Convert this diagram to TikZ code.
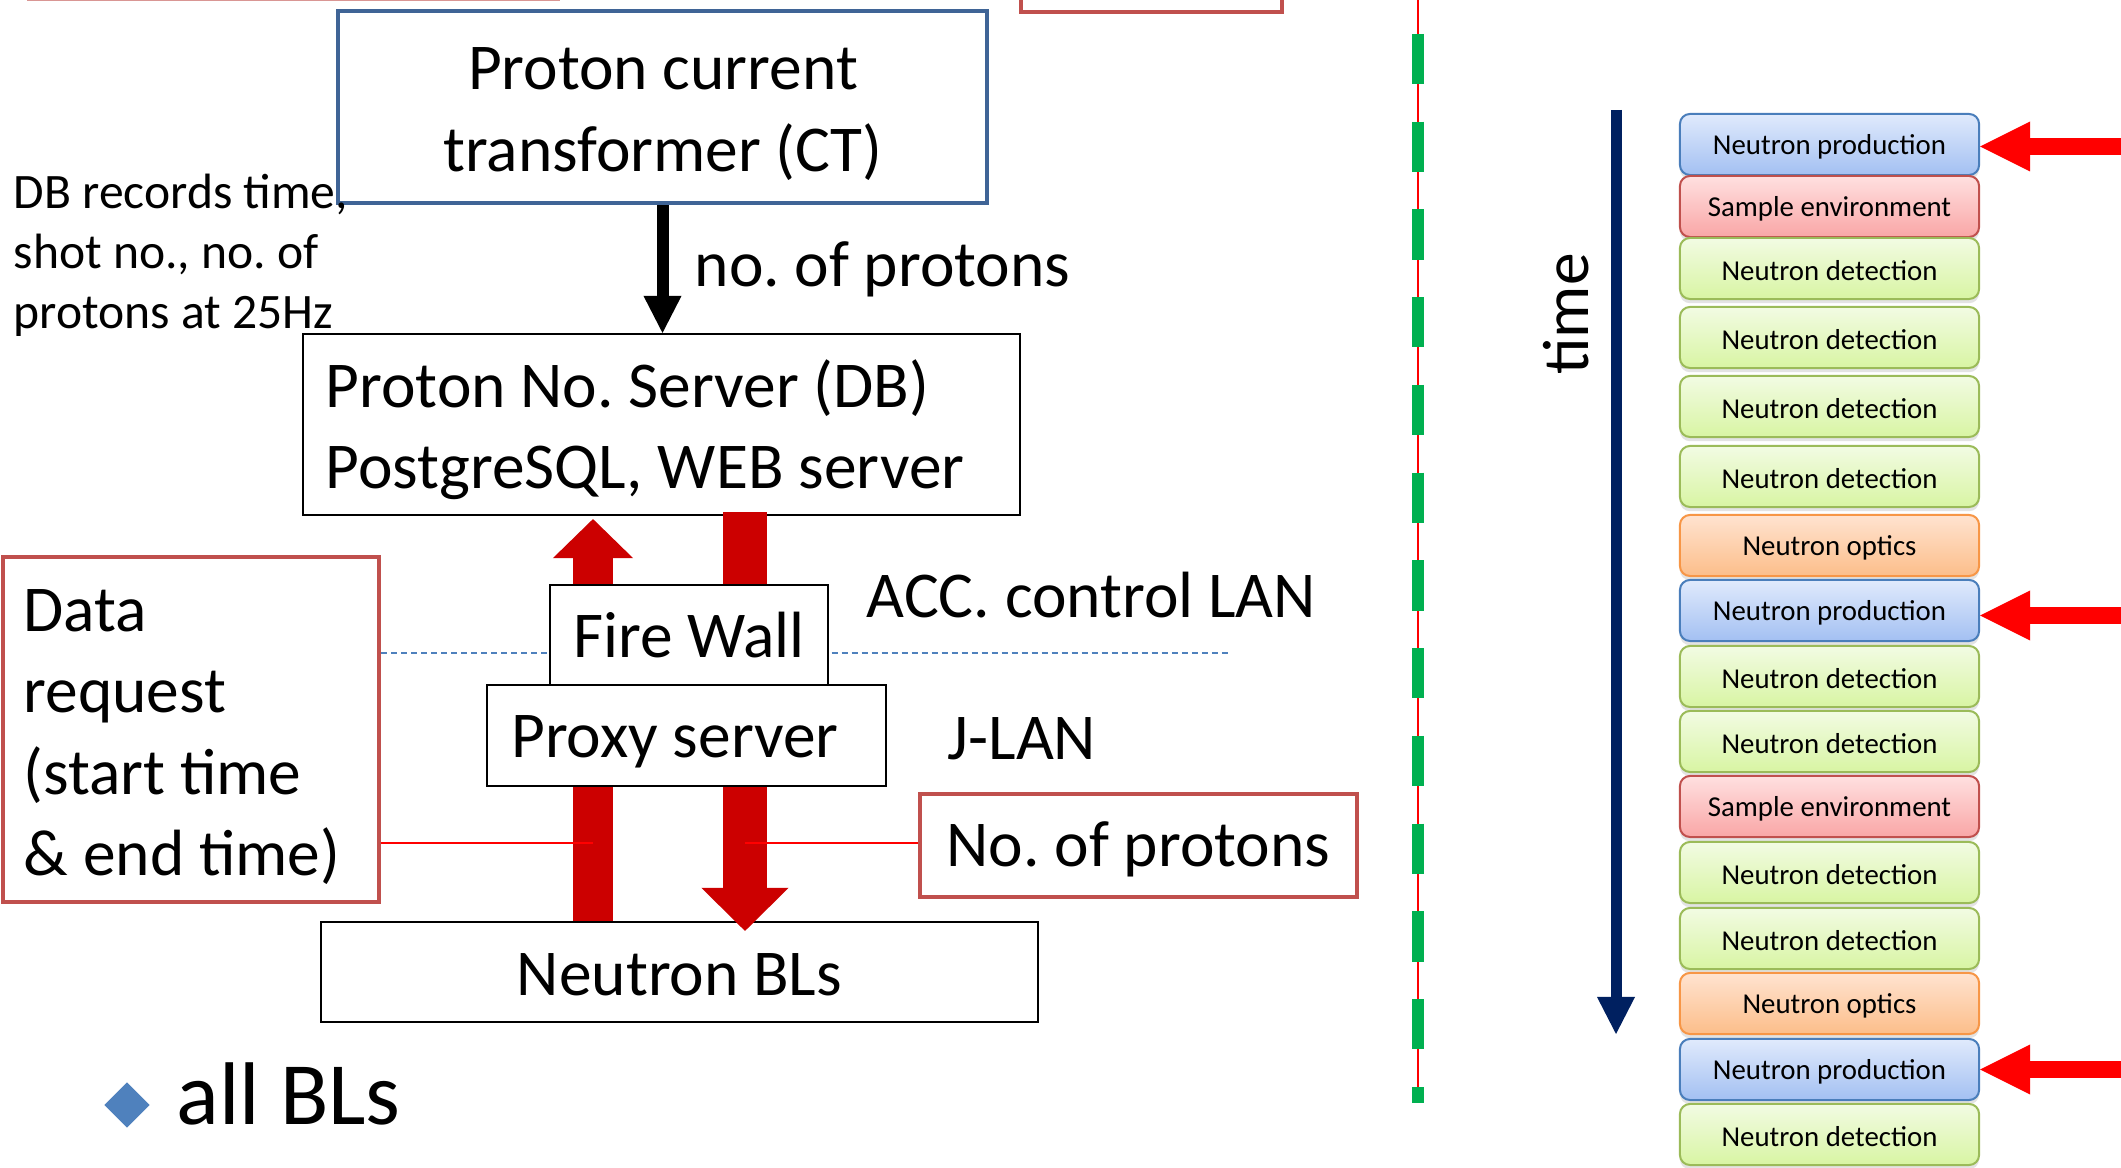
\documentclass[tikz,border=0pt]{standalone}
\usepackage{fontspec}
\setmainfont{Carlito}
\usetikzlibrary{arrows.meta,shapes.geometric,shadows,calc}
\frenchspacing
\definecolor{ctblue}{RGB}{63,100,150}
\definecolor{boxred}{RGB}{192,80,77}
\definecolor{arrred}{RGB}{204,0,0}
\definecolor{dashblue}{RGB}{79,129,189}
\definecolor{navyc}{RGB}{0,32,96}
\definecolor{lgreen}{RGB}{0,176,80}
\definecolor{prodB}{RGB}{74,126,187}
\definecolor{prodT}{RGB}{224,234,252}
\definecolor{prodL}{RGB}{163,192,242}
\definecolor{sampB}{RGB}{192,80,77}
\definecolor{sampT}{RGB}{255,224,224}
\definecolor{sampL}{RGB}{249,166,166}
\definecolor{detB}{RGB}{155,187,89}
\definecolor{detT}{RGB}{242,251,227}
\definecolor{detL}{RGB}{216,245,163}
\definecolor{optB}{RGB}{247,150,70}
\definecolor{optT}{RGB}{255,227,208}
\definecolor{optL}{RGB}{252,190,138}
\newcommand{\lowr}[2]{\raisebox{-#1}[\height][\depth]{#2}}
\tikzset{
  big/.style={font=\fontsize{18.6}{23.1}\selectfont},
  smalltxt/.style={font=\fontsize{14.1}{17.1}\selectfont},
  hugetxt/.style={font=\fontsize{25.3}{30}\selectfont},
  blkbox/.style={draw=black, line width=0.57pt, rectangle, big},
  ctbox/.style={draw=ctblue, line width=1.28pt, rectangle},
  redbox/.style={draw=boxred, line width=1.28pt, rectangle, big},
  lbl/.style={big, anchor=west, inner sep=0pt},
  txt/.style={big, inner sep=0pt},
  blkarrow/.style={draw=black, line width=0.12cm, -{Triangle[width=0.38cm,length=0.37cm,line width=0pt]}},
  uparrow/.style={draw=arrred, line width=0.40cm, -{Triangle[width=0.80cm,length=0.39cm,line width=0pt]}},
  dnarrow/.style={draw=arrred, line width=0.44cm, -{Triangle[width=0.87cm,length=0.43cm,line width=0pt]}},
  navyarrow/.style={draw=navyc, line width=0.11cm, -{Triangle[width=0.38cm,length=0.37cm,line width=0pt]}},
  rarrow/.style={draw=red, line width=0.175cm, -{Triangle[width=0.50cm,length=0.50cm,line width=0pt]}},
  thinred/.style={draw=red, line width=0.6pt},
  dashline/.style={draw=dashblue, line width=0.6pt, dash pattern=on 0.06cm off 0.04cm},
  rbase/.style={rectangle, rounded corners=0.1cm, line width=0.57pt, minimum width=2.99cm, minimum height=0.61cm, inner sep=0pt, font=\fontsize{8.2}{10}\selectfont, drop shadow={opacity=0.22, shadow xshift=0pt, shadow yshift=-1.2pt}},
  rprod/.style={rbase, draw=prodB, top color=prodT, bottom color=prodL},
  rsamp/.style={rbase, draw=sampB, top color=sampT, bottom color=sampL},
  rdet/.style={rbase, draw=detB, top color=detT, bottom color=detL},
  ropt/.style={rbase, draw=optB, top color=optT, bottom color=optL},
}
\begin{document}
\begin{tikzpicture}[x=0.01cm,y=-0.01cm]
\useasboundingbox (0,0) rectangle (2121,1168);
\fill[white] (0,0) rectangle (2121,1168);
% partial boxes cut at the top
\draw[boxred!60, line width=1.28pt] (29,-60) rectangle (558,-1);
\draw[boxred, line width=1.28pt] (1021,-60) rectangle (1282,12);
% left diagram
\node[ctbox, minimum width=6.49cm, minimum height=1.92cm] (ct) at (662.5,107) {};
\node[txt, align=center] (ctT) at (663,114) {Proton current\\transformer (CT)};
\node[blkbox, minimum width=7.17cm, minimum height=1.81cm] (db) at (661.5,424.5) {};
\node[txt, align=left, anchor=west] (dbT) at (325,430) {Proton No. Server (DB)\\PostgreSQL, WEB server};
\node[blkbox, minimum width=7.17cm, minimum height=1.0cm] (bls) at (679.5,972) {\lowr{0.03cm}{Neutron BLs}};
\node[redbox, minimum width=3.76cm, minimum height=3.45cm] (dreq) at (191,729.5) {};
\node[txt, align=left, anchor=west] (dreqT) at (23,737) {Data\\request\\(start time\\\& end time)};
\node[redbox, minimum width=4.37cm, minimum height=1.03cm] (nop) at (1138.5,845.5) {\lowr{0.04cm}{No. of protons}};
\draw[blkarrow] (ct.south) -- (ct.south |- db.north);
\node[lbl] (lblp) at (694,269) {no. of protons};
\node[smalltxt, anchor=west, align=left, inner sep=0pt] (dbrec) at (13,255) {DB records time,\\shot no., no. of\\protons at 25Hz};
\coordinate (upx) at (593,0);
\coordinate (dnx) at (745,0);
\coordinate (ly) at (0,843);
\coordinate (dy) at (0,653);
\coordinate (dEnd) at (1228,653);
\draw[dashline] (dreq.east |- dy) -- (dEnd);
\draw[uparrow] (bls.north -| upx) -- ($(db.south -| upx)+(0,3)$);
\draw[dnarrow] ($(db.south -| dnx)+(0,-4)$) -- ($(bls.north -| dnx)+(0,10)$);
\draw[thinred] (dreq.east |- ly) -- (upx |- ly);
\draw[thinred] (nop.west |- ly) -- (dnx |- ly);
\node[blkbox, fill=white, minimum width=2.78cm, minimum height=1.0cm] (fw) at (689,635) {Fire Wall};
\node[blkbox, fill=white, minimum width=3.99cm, minimum height=1.01cm] (proxy) at (686.5,735.5) {};
\node[txt] (proxyT) at (675,742) {Proxy server};
\node[lbl] (acc) at (866,595) {ACC. control LAN};
\node[lbl] (jlan) at (947,739) {J-LAN};
\node[diamond, fill=dashblue, minimum width=0.46cm, minimum height=0.46cm, inner sep=0pt] (dia) at (127,1105) {};
\node[hugetxt, anchor=base west, inner sep=0pt] (allbl) at (176,1125) {all BLs};
% separator line
\coordinate (vTop) at (1418,0);
\coordinate (vBot) at (1418,1103);
\coordinate (gTop) at (1418,34);
\draw[red, line width=0.5pt] (vTop) -- (vBot);
\draw[lgreen, line width=0.12cm, dash pattern=on 0.5cm off 0.377cm] (gTop) -- (vBot);
% time axis
\coordinate (tlTop) at (1616,110);
\coordinate (tlBot) at (1616,1034);
\draw[navyarrow] (tlTop) -- (tlBot);
\node[big, rotate=90] (time) at (1566,314) {time};
% sequence of boxes
\foreach \ty/\st/\lab [count=\i] in {
  114/rprod/Neutron production,
  176/rsamp/Sample environment,
  238/rdet/Neutron detection,
  307/rdet/Neutron detection,
  376/rdet/Neutron detection,
  446/rdet/Neutron detection,
  515/ropt/Neutron optics,
  580/rprod/Neutron production,
  646/rdet/Neutron detection,
  711/rdet/Neutron detection,
  776/rsamp/Sample environment,
  842/rdet/Neutron detection,
  908/rdet/Neutron detection,
  973/ropt/Neutron optics,
  1039/rprod/Neutron production,
  1104/rdet/Neutron detection}
{
  \node[\st] (r\i) at (1829.5,\ty+30.5) {\lowr{0.02cm}{\lab}};
}
\draw[rarrow] ($(r1.east)+(160,2)$) -- ($(r1.east)+(0,2)$);
\draw[rarrow] ($(r8.east)+(160,5)$) -- ($(r8.east)+(0,5)$);
\draw[rarrow] ($(r15.east)+(160,0)$) -- (r15.east);
\end{tikzpicture}
\end{document}
